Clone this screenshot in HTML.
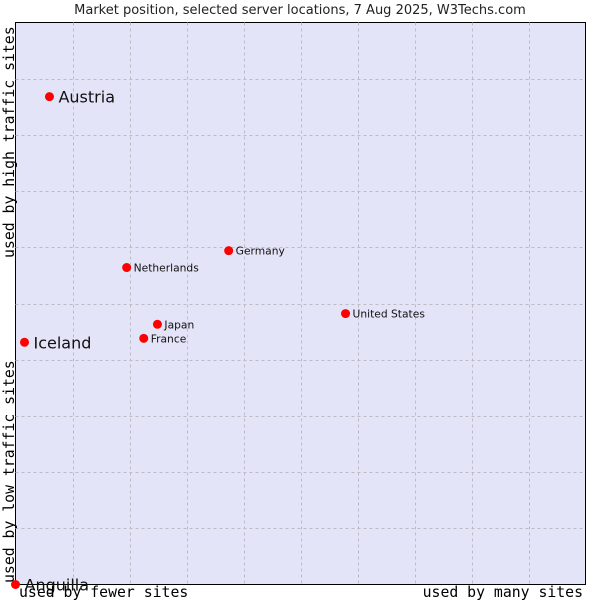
<!DOCTYPE html>
<html><head><meta charset="utf-8"><style>
body{margin:0;background:#fff;width:600px;height:600px;overflow:hidden}
svg{display:block}
</style></head><body>
<svg id="chart" width="600" height="600" xmlns="http://www.w3.org/2000/svg">
<text x="300" y="14" text-anchor="middle" font-family="DejaVu Sans, sans-serif" font-size="13" fill="#222">Market position, selected server locations, 7 Aug 2025, W3Techs.com</text>
<rect x="15.5" y="22.5" width="570" height="562" fill="#e4e4f8" stroke="#000"/>
<g id="grid"></g>
<g id="points"></g>
<text x="19" y="597" font-family="DejaVu Sans Mono, monospace" font-size="14.8" fill="#000">used by fewer sites</text>
<text x="583" y="597" text-anchor="end" font-family="DejaVu Sans Mono, monospace" font-size="14.8" fill="#000">used by many sites</text>
<text transform="translate(14,583) rotate(-90)" font-family="DejaVu Sans Mono, monospace" font-size="14.8" fill="#000">used by low traffic sites</text>
<text transform="translate(14,258) rotate(-90)" font-family="DejaVu Sans Mono, monospace" font-size="14.8" fill="#000">used by high traffic sites</text>
</svg>
<script>
const names=["Austria","Iceland","Anguilla","Netherlands","Germany","United States","Japan","France"];
const xVals=[5.96,1.58,0,19.5,37.4,57.9,24.9,22.5];
const yVals=[86.8,43.1,0,56.4,59.4,48.2,46.3,43.8];
const big=[true,true,true,false,false,false,false,false];
const X0=15.5,X1=585.5,Y0=584.5,Y1=22.5;
const sx=v=>X0+(X1-X0)*v/100, sy=v=>Y0-(Y0-Y1)*v/100;
const NS="http://www.w3.org/2000/svg";
const grid=document.getElementById('grid');
for(let i=1;i<10;i++){
  const v=document.createElementNS(NS,'line');
  
  
  v.setAttribute('x1',Math.round(sx(i*10))+0.5);v.setAttribute('x2',Math.round(sx(i*10))+0.5);
  v.setAttribute('y1',Y1);v.setAttribute('y2',Y0);
  v.setAttribute('stroke','#bcbcc4');v.setAttribute('stroke-dasharray','3,3');
  grid.appendChild(v);
  const h=document.createElementNS(NS,'line');
  
  
  h.setAttribute('y1',Math.round(sy(i*10))+0.5);h.setAttribute('y2',Math.round(sy(i*10))+0.5);
  h.setAttribute('x1',X0);h.setAttribute('x2',X1);
  h.setAttribute('stroke','#bcbcc4');h.setAttribute('stroke-dasharray','3,3');
  grid.appendChild(h);
}
const pts=document.getElementById('points');
names.forEach((n,i)=>{
  const cx=sx(xVals[i]),cy=sy(yVals[i]);
  const c=document.createElementNS(NS,'circle');
  
  
  c.setAttribute('cx',cx);c.setAttribute('cy',cy);c.setAttribute('r',4.5);c.setAttribute('fill','#ff0000');
  pts.appendChild(c);
  const t=document.createElementNS(NS,'text');
  
  
  t.setAttribute('x',cx+(big[i]?9:7));t.setAttribute('y',cy+(big[i]?6:4));
  t.setAttribute('font-family','DejaVu Sans, sans-serif');
  t.setAttribute('font-size',big[i]?16:10.7);
  t.setAttribute('fill','#111');
  t.textContent=n;
  pts.appendChild(t);
});
</script>
</body></html>
